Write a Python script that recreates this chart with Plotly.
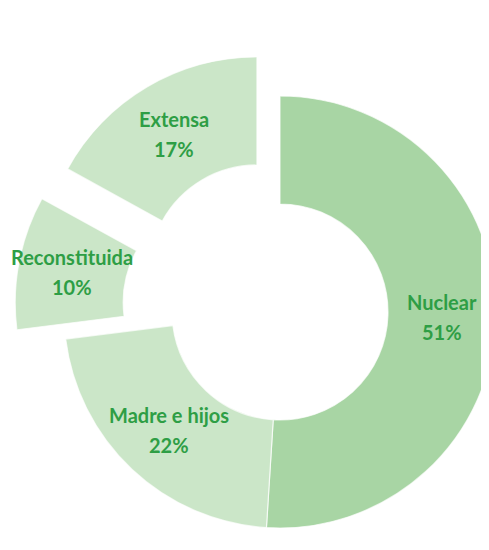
import math
import plotly.graph_objects as go

# ---- data ----
labels = ["Nuclear", "Madre e hijos", "Reconstituida", "Extensa"]
values = [51, 22, 10, 17]
pulls = [0.0, 0.0, 0.23, 0.21]
colors = ["#a8d5a4", "#cbe6c8", "#cbe6c8", "#cbe6c8"]

# ---- layout geometry (pixels) ----
W, H = 489, 550
cx, cy = 272, 304          # donut centre, measured from top-left
r = 216                     # outer radius
hole = 0.5
text_color = "#2e9e45"
clear = "rgba(0,0,0,0)"

total = sum(values)
cum = 0
mids = []
for v in values:
    mids.append(360.0 * (cum + v / 2) / total)
    cum += v


def offset(i):
    th = math.radians(mids[i])
    d = pulls[i] * r
    return d * math.sin(th), d * math.cos(th)  # x right, y up


def domain_for(dx, dy):
    x0 = (cx + dx - r) / W
    x1 = (cx + dx + r) / W
    ycb = (H - cy) + dy
    y0 = (ycb - r) / H
    y1 = (ycb + r) / H
    return dict(x=[max(0, x0), min(1, x1)], y=[max(0, y0), min(1, y1)])


fig = go.Figure()

groups = [[i for i, p in enumerate(pulls) if p == 0]] + [[i] for i, p in enumerate(pulls) if p > 0]
for g in groups:
    dx, dy = offset(g[0]) if pulls[g[0]] > 0 else (0.0, 0.0)
    fig.add_trace(go.Pie(
        labels=labels,
        values=values,
        sort=False,
        direction="clockwise",
        rotation=0,
        hole=hole,
        textinfo="none",
        hoverinfo="skip",
        showlegend=False,
        domain=domain_for(dx, dy),
        marker=dict(
            colors=[colors[i] if i in g else clear for i in range(len(values))],
            line=dict(color=["rgba(255,255,255,0.7)" if i in g else clear for i in range(len(values))],
                      width=[1.2 if i in g else 0 for i in range(len(values))]),
        ),
    ))

annotations = []
rl = r * (1 + hole) / 2
for i, lab in enumerate(labels):
    dx, dy = offset(i)
    th = math.radians(mids[i])
    px = cx + dx + rl * math.sin(th)
    py = cy - dy - rl * math.cos(th)
    xp, yp = px / W, 1 - py / H
    pct = f"{round(100 * values[i] / total)}%"
    for txt, ys in ((lab, 15), (pct, -15)):
        annotations.append(dict(
            x=xp, y=yp, xref="paper", yref="paper", text=txt, showarrow=False,
            yshift=ys, xanchor="center", yanchor="middle",
            font=dict(family="Lato", size=20, color=text_color, weight="bold"),
        ))

fig.update_layout(
    width=W, height=H,
    margin=dict(l=0, r=0, t=0, b=0),
    paper_bgcolor="white",
    plot_bgcolor="white",
    annotations=annotations,
)

fig.write_html("out.html")
